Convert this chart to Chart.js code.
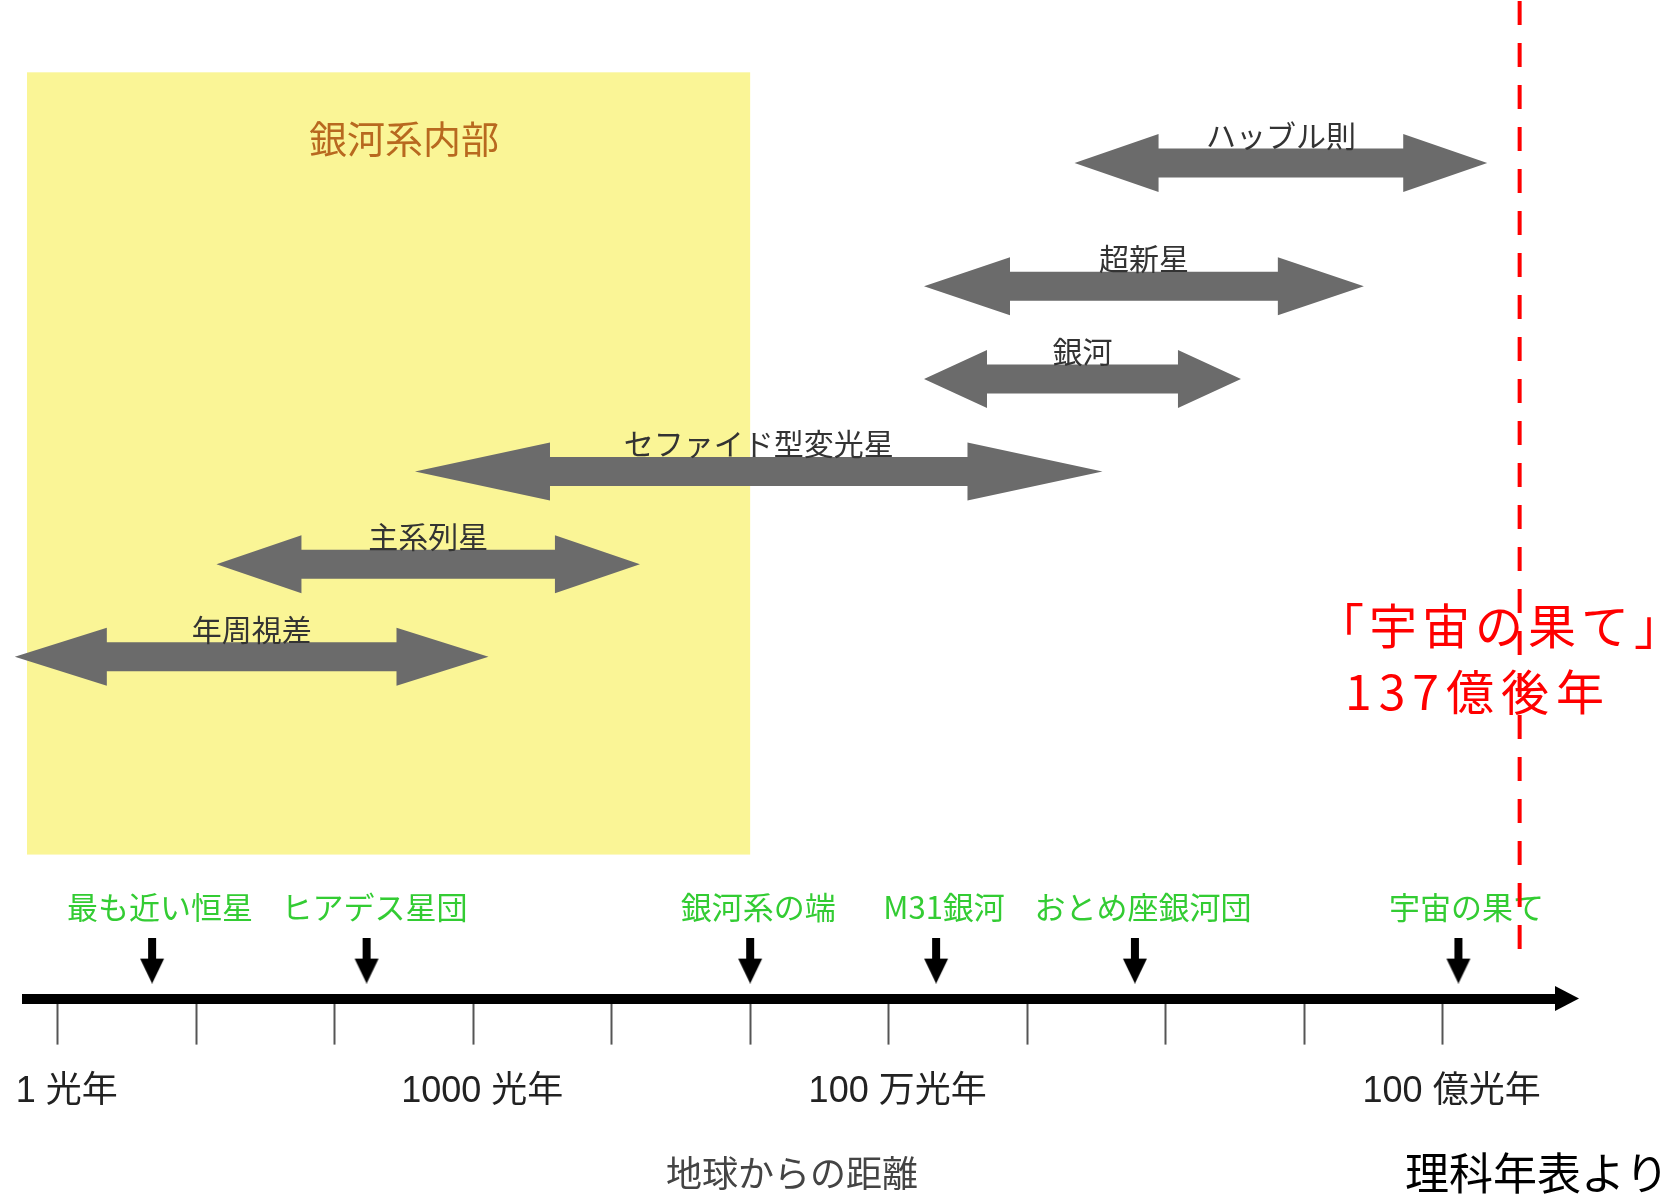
<!DOCTYPE html>
<html lang="ja">
<head>
<meta charset="utf-8">
<title>地球からの距離と測定法</title>
<script src="https://cdn.jsdelivr.net/npm/chart.js@4.4.1/dist/chart.umd.min.js"></script>
<style>
    html, body { margin: 0; padding: 0; background: #ffffff; }
    #wrap { position: relative; width: 1671px; height: 1195px; }
</style>
</head>
<body>
<div id="wrap"><canvas id="distanceChart"></canvas></div>
<script>
// distances in light years, x axis is logarithmic
const methodNames = ['年周視差', '主系列星', 'セファイド型変光星', '銀河', '超新星', 'ハッブル則'];
const methodFrom = [0.49, 14, 380, 1.8e6, 1.8e6, 2.2e7];
const methodTo = [1290, 16000, 3.5e7, 3.5e8, 2.7e9, 2.1e10];
const methodLevel = [1, 2, 3, 4, 5, 6.33];

const landmarkNames = ['最も近い恒星', 'ヒアデス星団', '銀河系の端', 'M31銀河', 'おとめ座銀河団', '宇宙の果て'];
const landmarkDistances = [4.8, 170, 1e5, 2.2e6, 6.0e7, 1.3e10];

const tickValues = [1, 10, 100, 1e3, 1e4, 1e5, 1e6, 1e7, 1e8, 1e9, 1e10];
const tickLabels = ['1 光年', '', '', '1000 光年', '', '', '100 万光年', '', '', '', '100 億光年'];

const galaxyEdge = 1e5;
const horizonDistance = 3.6e10;

// layout / style
const X_MIN = 0.62;
const X_MAX = 6.7e10;
const Y_MIN = -2.69;
const Y_MAX = 8.08;
const MARKER_LEVEL = -2.28;
const LABEL_LEVEL = -1.7;
const HORIZON_BOTTOM = -2.16;

const ARROW_GRAY = '#6b6b6b';
const HEAD_LENGTH = [92, 85, 135, 63, 86, 84];
const HEAD_HALF = 29;
const SHAFT_HALF = 14.5;
const CJK = "'Noto Sans CJK JP', sans-serif";
const LATIN = "'Liberation Sans', 'Noto Sans CJK JP', sans-serif";

function makeDownArrow() {
    const c = document.createElement('canvas');
    c.width = 26;
    c.height = 46;
    const g = c.getContext('2d');
    g.fillStyle = '#000000';
    g.fillRect(9, 0, 8, 23);
    g.beginPath();
    g.moveTo(1, 21);
    g.lineTo(25, 21);
    g.lineTo(13, 46);
    g.closePath();
    g.fill();
    return c;
}

function drawDoubleArrow(ctx, x1, x2, y, head) {
    ctx.beginPath();
    ctx.moveTo(x1, y);
    ctx.lineTo(x1 + head, y - HEAD_HALF);
    ctx.lineTo(x1 + head, y - SHAFT_HALF);
    ctx.lineTo(x2 - head, y - SHAFT_HALF);
    ctx.lineTo(x2 - head, y - HEAD_HALF);
    ctx.lineTo(x2, y);
    ctx.lineTo(x2 - head, y + HEAD_HALF);
    ctx.lineTo(x2 - head, y + SHAFT_HALF);
    ctx.lineTo(x1 + head, y + SHAFT_HALF);
    ctx.lineTo(x1 + head, y + HEAD_HALF);
    ctx.closePath();
    ctx.fill();
}

const decorPlugin = {
    id: 'distanceDecor',
    beforeDatasetsDraw(chart) {
        const { ctx, chartArea } = chart;
        const x = chart.scales.x;
        const y = chart.scales.y;
        ctx.save();

        // galaxy interior region
        const top = y.getPixelForValue(7.31);
        const bottom = y.getPixelForValue(-1.135);
        ctx.fillStyle = '#faf596';
        ctx.fillRect(chartArea.left, top, x.getPixelForValue(galaxyEdge) - chartArea.left, bottom - top);
        ctx.fillStyle = '#b8691f';
        ctx.font = '38px ' + CJK;
        ctx.textAlign = 'center';
        ctx.textBaseline = 'middle';
        ctx.fillText('銀河系内部', x.getPixelForValue(316), y.getPixelForValue(6.6));

        // measurement ranges
        chart.data.datasets.forEach((ds, i) => {
            if (!ds.headLength) return;
            const pts = chart.getDatasetMeta(i).data;
            const x1 = pts[0].x;
            const x2 = pts[1].x;
            const py = pts[0].y;
            ctx.fillStyle = ARROW_GRAY;
            drawDoubleArrow(ctx, x1, x2, py, ds.headLength);
            ctx.fillStyle = '#333333';
            ctx.font = '30px ' + CJK;
            ctx.textAlign = 'center';
            ctx.textBaseline = 'ideographic';
            ctx.fillText(ds.label, (x1 + x2) / 2, py - SHAFT_HALF + 2);
        });

        // landmark names
        ctx.fillStyle = '#33cc33';
        ctx.font = '31px ' + CJK;
        ctx.textAlign = 'center';
        ctx.textBaseline = 'middle';
        landmarkNames.forEach((name, i) => {
            ctx.fillText(name, x.getPixelForValue(landmarkDistances[i]) + 8, y.getPixelForValue(LABEL_LEVEL));
        });

        // edge of the universe note
        ctx.fillStyle = '#ff0000';
        ctx.font = '48px ' + CJK;
        ctx.textAlign = 'left';
        ctx.letterSpacing = '5px';
        ctx.fillText('「宇宙の果て」', 1316, y.getPixelForValue(1.33));
        ctx.letterSpacing = '7px';
        ctx.fillText('137億後年', 1345, y.getPixelForValue(0.62));
        ctx.letterSpacing = '0px';
        ctx.restore();
    },
    afterDraw(chart) {
        const { ctx, chartArea } = chart;
        ctx.save();
        // arrow head at the end of the distance axis
        const ay = chartArea.bottom;
        ctx.fillStyle = '#000000';
        ctx.beginPath();
        ctx.moveTo(chartArea.right - 2, ay - 12.5);
        ctx.lineTo(chartArea.right + 22, ay);
        ctx.lineTo(chartArea.right - 2, ay + 12.5);
        ctx.closePath();
        ctx.fill();

        ctx.font = '44px ' + CJK;
        ctx.textAlign = 'right';
        ctx.textBaseline = 'middle';
        ctx.fillText('理科年表より', chart.width - 2, 1173);
        ctx.restore();
    }
};

const methodSets = methodNames.map((name, i) => ({
    label: name,
    data: [
        { x: methodFrom[i], y: methodLevel[i] },
        { x: methodTo[i], y: methodLevel[i] }
    ],
    showLine: false,
    pointRadius: 0,
    pointHoverRadius: 0,
    headLength: HEAD_LENGTH[i]
}));

const landmarkSet = {
    label: '目印',
    data: landmarkDistances.map(d => ({ x: d, y: MARKER_LEVEL })),
    showLine: false,
    pointStyle: makeDownArrow(),
    pointRadius: 1,
    pointHoverRadius: 0,
    pointBorderWidth: 0,
    clip: false
};

const horizonSet = {
    label: '宇宙の果て',
    data: [
        { x: horizonDistance, y: Y_MAX },
        { x: horizonDistance, y: HORIZON_BOTTOM }
    ],
    showLine: true,
    borderColor: '#ff0000',
    borderWidth: 4,
    borderDash: [24, 18],
    pointRadius: 0,
    pointHoverRadius: 0,
    fill: false
};

new Chart(document.getElementById('distanceChart'), {
    type: 'scatter',
    data: { datasets: [...methodSets, landmarkSet, horizonSet] },
    plugins: [decorPlugin],
    options: {
        responsive: true,
        maintainAspectRatio: false,
        animation: false,
        events: [],
        layout: { padding: { top: 0, left: 27, right: 114, bottom: 0 } },
        plugins: {
            legend: { display: false },
            tooltip: { enabled: false }
        },
        scales: {
            x: {
                type: 'logarithmic',
                min: X_MIN,
                max: X_MAX,
                afterBuildTicks: (scale) => {
                    scale.ticks = tickValues.map(v => ({ value: v }));
                },
                afterFit: (scale) => {
                    scale.paddingLeft = 0;
                    scale.paddingRight = 0;
                },
                grid: {
                    drawOnChartArea: false,
                    drawTicks: true,
                    tickLength: 46,
                    tickColor: '#555555',
                    tickWidth: 2
                },
                border: { display: true, color: '#000000', width: 10 },
                ticks: {
                    autoSkip: false,
                    maxRotation: 0,
                    padding: 26,
                    labelOffset: 9,
                    color: '#222222',
                    font: { family: LATIN, size: 36 },
                    callback: (value, index) => tickLabels[index]
                },
                title: {
                    display: true,
                    text: '地球からの距離',
                    color: '#444444',
                    font: { family: CJK, size: 36 },
                    padding: { top: 12, bottom: 0 }
                }
            },
            y: {
                type: 'linear',
                min: Y_MIN,
                max: Y_MAX,
                display: false
            }
        }
    }
});
</script>
</body>
</html>
